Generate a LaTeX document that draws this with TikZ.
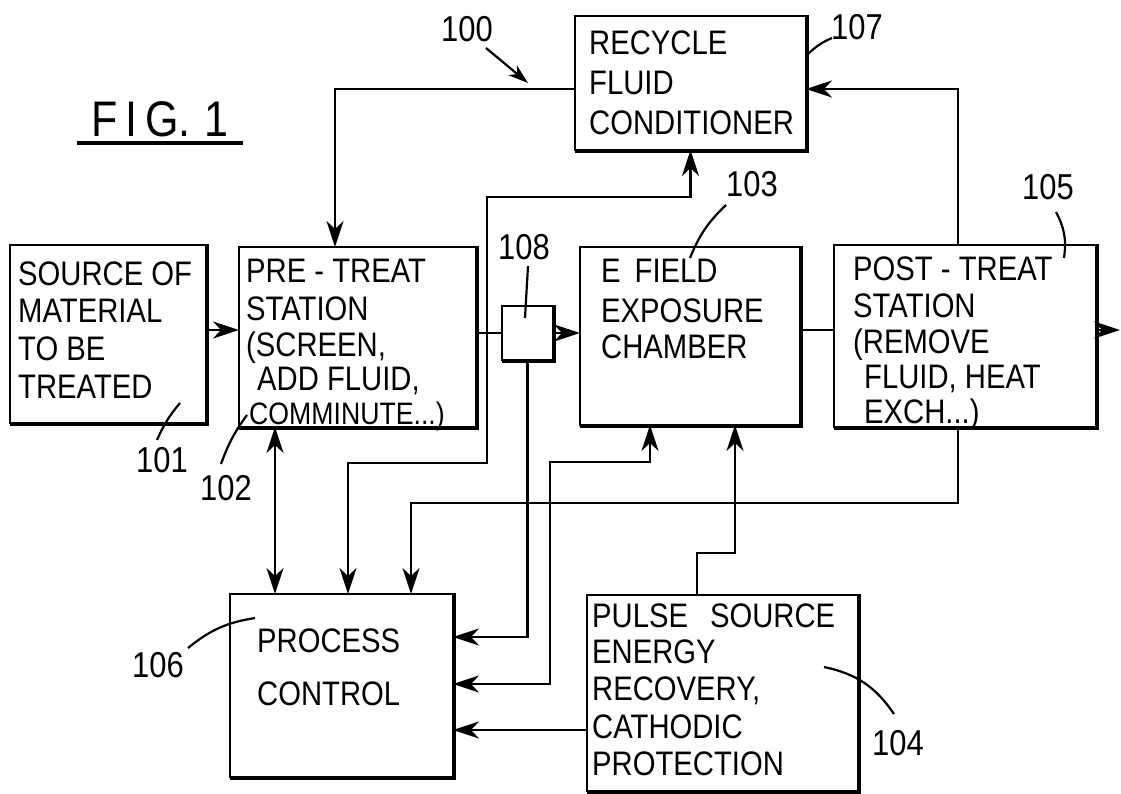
\documentclass[tikz,border=0pt]{standalone}
\usepackage{fontspec}
\setmainfont{Liberation Sans}[FakeStretch=0.86]
\usetikzlibrary{arrows.meta,calc}
\begin{document}
\begin{tikzpicture}[x=1pt,y=-1pt,
  box/.style={draw, line width=2.6pt, inner sep=0pt, outer sep=0pt},
  heavy/.style={line width=4.2pt},
  conn/.style={draw, line width=2.5pt},
  arr/.style={conn, -{Stealth[length=26pt,width=17pt,inset=8pt]}},
  arr2/.style={conn, {Stealth[length=26pt,width=17pt,inset=8pt]}-{Stealth[length=26pt,width=17pt,inset=8pt]}},
  leader/.style={draw, line width=2.2pt},
  txt/.style={inner sep=0pt, anchor=base west, font=\fontsize{34}{37}\selectfont},
  lbl/.style={inner sep=0pt, anchor=base west, font=\fontsize{36}{40}\selectfont},
]
\useasboundingbox (0,0) rectangle (1121,794);

% boxes
\node[box, minimum width=196pt, minimum height=178pt] (src) at (108,334) {};
\node[box, minimum width=237pt, minimum height=180pt] (pre) at (357.5,337) {};
\node[box, minimum width=51pt, minimum height=54pt] (b108) at (527.5,333) {};
\node[box, minimum width=220pt, minimum height=178pt] (efd) at (690,336) {};
\node[box, minimum width=262pt, minimum height=182pt] (post) at (965,336) {};
\node[box, minimum width=231pt, minimum height=134pt] (rec) at (690.5,83) {};
\node[box, minimum width=223pt, minimum height=183pt] (pc) at (341.5,685.5) {};
\node[box, minimum width=271pt, minimum height=196pt] (pulse) at (722.5,693) {};
\foreach \n in {src,pre,b108,efd,post,rec,pc,pulse}
  \draw[heavy] ([xshift=1pt,yshift=1.2pt]\n.north east) -- ([xshift=1pt,yshift=-1pt]\n.south east) -- ([yshift=-1pt]\n.south west);

% texts
\node[txt] (s1t) at (18,285) {SOURCE OF};
\node[txt] (s2t) at (18,322) {MATERIAL};
\node[txt] (s3t) at (18,360) {TO BE};
\node[txt] (s4t) at (18,398) {TREATED};

\node[txt] (p1t) at (246,282) {PRE - TREAT};
\node[txt] (p2t) at (246,320) {STATION};
\node[txt] (p3t) at (246,356) {(SCREEN,};
\node[txt] (p4t) at (257,390) {ADD FLUID,};
\node[txt, font=\fontsize{31}{34}\selectfont] (p5t) at (249,424) {COMMINUTE...)};

\node[txt] (e1t) at (601,283) {E\hspace{14pt}FIELD};
\node[txt] (e2t) at (601,322) {EXPOSURE};
\node[txt] (e3t) at (601,358) {CHAMBER};

\node[txt] (o1t) at (853,280) {POST - TREAT};
\node[txt] (o2t) at (853,317) {STATION};
\node[txt] (o3t) at (853,353) {(REMOVE};
\node[txt] (o4t) at (864,388) {FLUID, HEAT};
\node[txt] (o5t) at (864,423) {EXCH...)};

\node[txt] (r1t) at (589,55) {RECYCLE};
\node[txt] (r2t) at (589,95) {FLUID};
\node[txt] (r3t) at (589,135) {CONDITIONER};

\node[txt] (c1t) at (257,652) {PROCESS};
\node[txt] (c2t) at (257,705) {CONTROL};

\node[txt] (u1t) at (592,627) {PULSE\hspace{22pt}SOURCE};
\node[txt] (u2t) at (592,663) {ENERGY};
\node[txt] (u3t) at (592,700) {RECOVERY,};
\node[txt] (u4t) at (592,738) {CATHODIC};
\node[txt] (u5t) at (592,775) {PROTECTION};

% figure title
\node[inner sep=0pt, anchor=base west, font=\fontsize{50}{56}\selectfont] (fig) at (91,137) {F\hspace{8pt}I\hspace{8pt}G.\hspace{14pt}1};
\coordinate (ul1) at (77,143);
\coordinate (ul2) at (243,143);
\draw[line width=3.2pt] (ul1) -- (ul2);

% reference labels
\node[lbl] (l100) at (441,42) {100};
\node[lbl] (l101) at (136,472) {101};
\node[lbl] (l102) at (200,500) {102};
\node[lbl] (l103) at (726,197) {103};
\node[lbl] (l104) at (872,755) {104};
\node[lbl] (l105) at (1022,200) {105};
\node[lbl] (l106) at (132,677) {106};
\node[lbl] (l107) at (831,40) {107};
\node[lbl] (l108) at (498,260) {108};

% leaders
\coordinate (a100s) at (486,48);
\coordinate (a100e) at (528,83);
\draw[leader, -{Stealth[length=20pt,width=13pt,inset=6pt]}] (a100s) -- (a100e);
\coordinate (a101s) at (157,440);
\coordinate (a101e) at (180,403);
\draw[leader] (a101s) to[bend left=8] (a101e);
\coordinate (a102s) at (221,464);
\coordinate (a102e) at (247,415);
\draw[leader] (a102s) to[bend left=8] (a102e);
\coordinate (a103s) at (726,205);
\coordinate (a103e) at (690,258);
\draw[leader] (a103s) to[bend right=12] (a103e);
\coordinate (a104s) at (824,667);
\coordinate (a104e) at (894,714);
\draw[leader] (a104s) to[bend left=22] (a104e);
\coordinate (a105s) at (1056,212);
\coordinate (a105e) at (1064,258);
\draw[leader] (a105s) to[bend left=18] (a105e);
\coordinate (a106s) at (188,648);
\coordinate (a106e) at (255,618);
\draw[leader] (a106s) to[bend left=15] (a106e);
\coordinate (a107s) at (808,54);
\coordinate (a107e) at (832,38);
\draw[leader] (a107s) to[bend left=10] (a107e);
\coordinate (a108s) at (528,266);
\coordinate (a108e) at (525,318);
\draw[leader] (a108s) -- (a108e);

% connectors
\draw[arr] ([yshift=4pt]src.east) -- ([yshift=4pt]src.east -| pre.west);
\draw[arr] ([yshift=-6pt]rec.west) -| ([xshift=-22.5pt]pre.north);
\draw[arr] ([xshift=-7pt]post.north) |- ([yshift=-6pt]rec.east);
\coordinate (out) at (1120,330);
\draw[arr] (post.east |- out) -- (out);
\draw[conn] (b108.west -| pre.east) -- (b108.west);
\draw[arr] (b108.east) -- (b108.east -| efd.west);
\draw[conn] ([yshift=6pt]efd.east) -- ([yshift=6pt]efd.east -| post.west);

\coordinate (p1) at (487,197);
\coordinate (p2) at (487,463);
\draw[arr2] ([xshift=6.5pt]pc.north) |- (p2) -- (p1) -| (rec.south);
\draw[arr2] ([xshift=-66.5pt]pc.north |- pre.south) -- ([xshift=-66.5pt]pc.north);
\coordinate (q1) at (411,503);
\draw[arr] ([xshift=-7pt]post.south) |- (q1) -- (q1 |- pc.north);
\draw[arr] (b108.south) |- ([yshift=48.5pt]pc.east);
\coordinate (r1) at (550,462);
\draw[arr2] ([yshift=1.5pt]pc.east) -| (r1) -| ([xshift=-40pt]efd.south);
\coordinate (s1) at (735,553);
\draw[arr] ([xshift=-25.5pt]pulse.north) |- (s1) -- (s1 |- efd.south);
\draw[arr] ([yshift=-37pt]pulse.west) -- ([yshift=-37pt]pulse.west -| pc.east);
\end{tikzpicture}
\end{document}
